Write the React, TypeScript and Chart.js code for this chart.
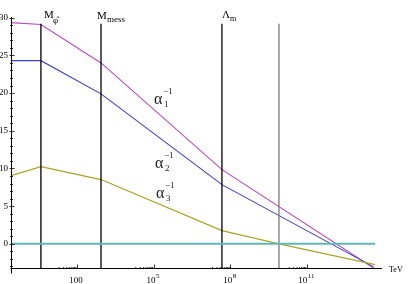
import React, { useEffect, useRef } from "react";
import { Chart, registerables } from "chart.js";
Chart.register(...registerables);

// x values are log10(E / TeV)
const X_MIN = -0.58;
const X_MAX = 13.93;
const Y_MIN = -3.2;
const Y_MAX = 30.49;

const alpha1X = [-0.58, 0.59, 2.94, 7.67, 13.6];
const alpha1Y = [29.35, 29.1, 24.0, 9.85, -3.2];
const alpha2X = [-0.58, 0.59, 2.94, 7.67, 13.6];
const alpha2Y = [24.3, 24.3, 19.9, 7.86, -3.05];
const alpha3X = [-0.58, 0.59, 2.94, 7.67, 9.9, 13.66];
const alpha3Y = [9.06, 10.25, 8.53, 1.76, 0, -2.75];
const zeroX = [-0.58, 13.66];
const zeroY = [0, 0];

const thresholdNames = ["Mphi", "Mmess", "Lambda", "extra"];
const thresholdX = [0.59, 2.94, 7.67, 9.9];
const thresholdTop = 29.2;
const thresholdColors = ["#000000", "#000000", "#000000", "#7a7a7a"];

const yMajorTicks = [0, 5, 10, 15, 20, 25, 30];
const xMajorTicks = [2, 5, 8, 11];
const xTickLabels = ["100", "10", "10", "10"];
const xTickSups = ["", "5", "8", "11"];

const curveLabelSubs = ["1", "2", "3"];
const curveLabelX = [5.01, 5.05, 5.09];
const curveLabelY = [18.6, 10.1, 6.1];

const pts = (xs: number[], ys: number[]) => xs.map((x, i) => ({ x, y: ys[i] }));

const SERIF = "'Liberation Serif', 'DejaVu Serif', serif";

const overlay = {
  id: "overlay",
  afterDraw(chart: any) {
    const ctx = chart.ctx as CanvasRenderingContext2D;
    const xs = chart.scales.x;
    const ys = chart.scales.y;
    const ca = chart.chartArea;
    ctx.save();
    ctx.strokeStyle = "#000";
    ctx.fillStyle = "#000";
    ctx.lineWidth = 1;
    const axY = Math.round(ys.getPixelForValue(Y_MIN)) + 0.5;
    const axX = Math.round(xs.getPixelForValue(X_MIN)) + 0.5;
    // axes
    ctx.beginPath();
    ctx.moveTo(axX, ca.top + 3);
    ctx.lineTo(axX, axY + 5);
    ctx.moveTo(axX - 1, axY);
    ctx.lineTo(ca.right, axY);
    ctx.stroke();
    // y ticks
    ctx.lineWidth = 0.8;
    ctx.beginPath();
    for (let v = -3; v <= 30; v++) {
      const py = Math.round(ys.getPixelForValue(v)) + 0.5;
      const major = v % 5 === 0;
      ctx.moveTo(axX - (major ? 2 : 1.5), py);
      ctx.lineTo(axX + (major ? 3 : 1.5), py);
    }
    ctx.stroke();
    ctx.font = "9px " + SERIF;
    ctx.textAlign = "right";
    ctx.textBaseline = "middle";
    yMajorTicks.forEach((v) => {
      ctx.fillText(String(v), 8, ys.getPixelForValue(v));
    });
    // x ticks
    ctx.beginPath();
    xMajorTicks.forEach((e) => {
      const px = Math.round(xs.getPixelForValue(e)) + 0.5;
      ctx.moveTo(px, axY);
      ctx.lineTo(px, axY - 4);
      for (let m = 2; m <= 9; m++) {
        const mx = xs.getPixelForValue(e - 1 + Math.log10(m));
        ctx.moveTo(mx, axY);
        ctx.lineTo(mx, axY - 1.5);
      }
    });
    ctx.stroke();
    ctx.textBaseline = "alphabetic";
    xMajorTicks.forEach((e, i) => {
      const px = xs.getPixelForValue(e);
      ctx.font = "9px " + SERIF;
      const w = ctx.measureText(xTickLabels[i]).width;
      ctx.font = "7px " + SERIF;
      const sw = xTickSups[i] ? ctx.measureText(xTickSups[i]).width : 0;
      const start = px - (w + sw) / 2 - 1;
      ctx.textAlign = "left";
      ctx.font = "9px " + SERIF;
      ctx.fillText(xTickLabels[i], start, axY + 14);
      if (xTickSups[i]) {
        ctx.font = "7px " + SERIF;
        ctx.fillText(xTickSups[i], start + w + 0.5, axY + 9);
      }
    });
    ctx.font = "8px " + SERIF;
    ctx.textAlign = "left";
    ctx.fillText("TeV", ca.right + 7, axY + 3);

    // threshold labels
    const p0 = xs.getPixelForValue(thresholdX[0]);
    ctx.font = "11px " + SERIF;
    ctx.fillText("M", p0 + 3, 18);
    ctx.font = "9px " + SERIF;
    ctx.fillText("\u03C6\u0302", p0 + 12, 23);
    const p1 = xs.getPixelForValue(thresholdX[1]);
    ctx.font = "11px " + SERIF;
    ctx.fillText("M", p1 - 4, 19);
    ctx.font = "9px " + SERIF;
    ctx.fillText("mess", p1 + 6, 22);
    const p2 = xs.getPixelForValue(thresholdX[2]);
    ctx.font = "11px " + SERIF;
    ctx.fillText("\u039B", p2, 18);
    ctx.font = "8px " + SERIF;
    ctx.fillText("m", p2 + 8, 21);

    // curve labels
    curveLabelSubs.forEach((s, i) => {
      const px = xs.getPixelForValue(curveLabelX[i]);
      const py = ys.getPixelForValue(curveLabelY[i]);
      ctx.fillStyle = "#222";
      ctx.font = "16px " + SERIF;
      ctx.fillText("\u03B1", px, py);
      ctx.font = "9px " + SERIF;
      ctx.fillText("\u22121", px + 9, py - 10);
      ctx.fillText(s, px + 10, py + 3);
    });
    ctx.restore();
  },
};

export default function App() {
  const ref = useRef<HTMLCanvasElement>(null);
  useEffect(() => {
    if (!ref.current) return;
    const thresholdSets = thresholdX.map((x, i) => ({
      label: thresholdNames[i],
      data: [
        { x, y: Y_MIN },
        { x, y: thresholdTop },
      ],
      showLine: true,
      borderColor: thresholdColors[i],
      borderWidth: 1.3,
      pointRadius: 0,
    }));
    const chart = new Chart(ref.current, {
      type: "scatter",
      data: {
        datasets: [
          {
            label: "zero",
            data: pts(zeroX, zeroY),
            showLine: true,
            borderColor: "#5fb7b7",
            borderWidth: 2,
            pointRadius: 0,
          },
          ...thresholdSets,
          {
            label: "alpha3",
            data: pts(alpha3X, alpha3Y),
            showLine: true,
            borderColor: "#a6a62a",
            borderWidth: 1.2,
            pointRadius: 0,
          },
          {
            label: "alpha2",
            data: pts(alpha2X, alpha2Y),
            showLine: true,
            borderColor: "#3f3fc2",
            borderWidth: 1.1,
            pointRadius: 0,
          },
          {
            label: "alpha1",
            data: pts(alpha1X, alpha1Y),
            showLine: true,
            borderColor: "#bb4cbb",
            borderWidth: 1.1,
            pointRadius: 0,
          },
        ],
      },
      options: {
        animation: false,
        responsive: false,
        devicePixelRatio: 1,
        layout: { padding: { left: 11, right: 32, top: 14, bottom: 16 } },
        plugins: { legend: { display: false }, tooltip: { enabled: false } },
        scales: {
          x: { type: "linear", min: X_MIN, max: X_MAX, display: false },
          y: { type: "linear", min: Y_MIN, max: Y_MAX, display: false },
        },
      },
      plugins: [overlay],
    });
    return () => chart.destroy();
  }, []);
  return (
    <div style={{ position: "fixed", left: 0, top: 0, width: 414, height: 284, background: "#fff" }}>
      <canvas ref={ref} width={414} height={284} />
    </div>
  );
}
